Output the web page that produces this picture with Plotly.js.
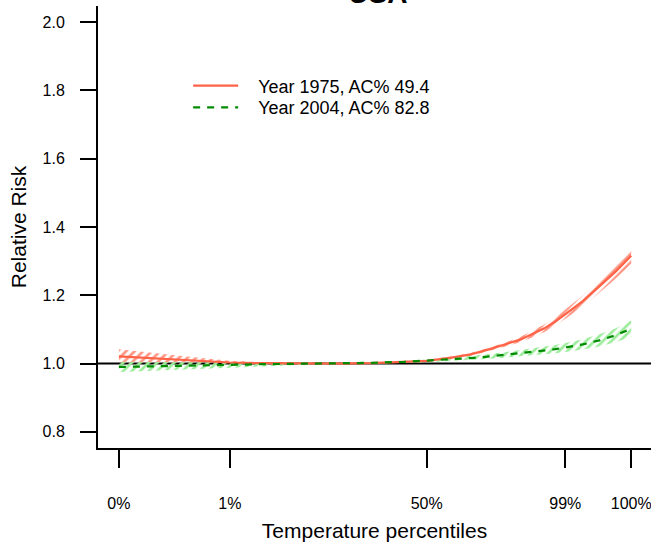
<!DOCTYPE html>
<html>
<head>
<meta charset="utf-8">
<script src="https://cdn.plot.ly/plotly-3.0.1.min.js"></script>
<style>
  html, body { margin: 0; padding: 0; background: #fff; }
  #graph { width: 651px; height: 542px; }
</style>
</head>
<body>
<div id="graph"></div>
<script>
/* temperature grid (deg C) and percentile ticks */
const temp = [-12.0, -9.5, -6.9, -4.5, -1.9, 1.0, 4.5, 8.0, 11.0, 14.0, 16.0, 18.4,
    20.0, 21.5, 23.0, 24.5, 25.7, 26.7, 27.7, 28.6, 30.2, 31.7, 33.2, 34.6];
const tickTemps = [-12.0, -1.9, 16.0, 28.6, 34.6];
const tickLabels = ["0%", "1%", "50%", "99%", "100%"];
const yTicks = [0.8, 1.0, 1.2, 1.4, 1.6, 1.8, 2.0];

/* Year 1975 */
const rr1975 = [1.021, 1.016, 1.012, 1.007, 1.003, 1.001, 1.000, 1.000, 1.001, 1.004, 1.008, 1.018,
    1.027, 1.040, 1.054, 1.070, 1.088, 1.103, 1.123, 1.145, 1.183, 1.226, 1.270, 1.316];
const lo1975 = [1.000, 1.000, 1.000, 0.999, 0.998, 0.998, 0.998, 0.998, 0.999, 1.002, 1.006, 1.015,
    1.023, 1.035, 1.048, 1.062, 1.078, 1.092, 1.111, 1.132, 1.167, 1.207, 1.249, 1.292];
const hi1975 = [1.042, 1.033, 1.024, 1.016, 1.008, 1.004, 1.002, 1.002, 1.003, 1.006, 1.010, 1.021,
    1.031, 1.045, 1.060, 1.078, 1.098, 1.114, 1.135, 1.158, 1.199, 1.245, 1.291, 1.337];

/* Year 2004 */
const rr2004 = [0.990, 0.991, 0.993, 0.994, 0.996, 0.998, 0.999, 1.000, 1.002, 1.005, 1.008, 1.013,
    1.016, 1.020, 1.025, 1.030, 1.034, 1.038, 1.042, 1.047, 1.056, 1.068, 1.083, 1.102];
const lo2004 = [0.975, 0.978, 0.981, 0.984, 0.988, 0.992, 0.996, 0.998, 1.000, 1.002, 1.004, 1.008,
    1.010, 1.013, 1.017, 1.021, 1.024, 1.027, 1.030, 1.034, 1.041, 1.050, 1.063, 1.078];
const hi2004 = [1.005, 1.004, 1.004, 1.004, 1.004, 1.003, 1.002, 1.002, 1.004, 1.008, 1.012, 1.018,
    1.022, 1.027, 1.033, 1.039, 1.044, 1.049, 1.054, 1.060, 1.071, 1.086, 1.103, 1.126];

const font = "Liberation Sans, Arial, sans-serif";
const pad = "\u00a0\u00a0\u00a0";

function band(lo, hi, col) {
    const edge = {
        x: temp, y: lo, type: "scatter", mode: "lines",
        line: { width: 0 }, showlegend: false, hoverinfo: "skip",
    };
    const fill = {
        x: temp, y: hi, type: "scatter", mode: "lines",
        line: { width: 0 }, fill: "tonexty",
        fillcolor: "rgba(0,0,0,0)",
        fillpattern: { shape: "/", fgcolor: col, bgcolor: "rgba(0,0,0,0)", size: 6, solidity: 0.45 },
        showlegend: false, hoverinfo: "skip",
    };
    return [edge, fill];
}

const data = [
    ...band(lo1975, hi1975, "rgb(255,150,132)"),
    ...band(lo2004, hi2004, "rgb(155,236,155)"),
    {
        x: temp, y: rr1975, type: "scatter", mode: "lines",
        name: pad + "Year 1975, AC% 49.4",
        line: { color: "#FF6347", width: 2.2 },
        legend: "legend",
    },
    {
        x: temp, y: rr2004, type: "scatter", mode: "lines",
        name: pad + "Year 2004, AC% 82.8",
        line: { color: "#008B00", width: 2.2, dash: "7px,7px" },
        legend: "legend2",
    },
];

const legendBase = {
    x: 0.163, xanchor: "left", yanchor: "middle",
    bgcolor: "rgba(0,0,0,0)",
    font: { size: 18, family: font },
    itemwidth: 45,
};

const layout = {
    width: 651,
    height: 542,
    margin: { l: 98, r: 0, t: 6, b: 94 },
    paper_bgcolor: "#fff",
    plot_bgcolor: "#fff",
    font: { family: font, color: "#000" },
    title: {
        text: "<b>USA</b>",
        font: { size: 28, family: font, color: "#000" },
        xref: "paper", x: 0.506, xanchor: "center",
        yref: "container", y: 0.995, yanchor: "bottom",
    },
    xaxis: {
        range: [-13.9, 36.4],
        tickvals: tickTemps,
        ticktext: tickLabels,
        ticks: "outside", ticklen: 18, tickwidth: 2, tickcolor: "#000",
        ticklabelstandoff: 22,
        ticklabeloverflow: "allow",
        tickfont: { size: 16 },
        showline: true, linewidth: 2, linecolor: "#000",
        showgrid: false, zeroline: false,
        title: { text: "Temperature percentiles", font: { size: 21 }, standoff: 14 },
    },
    yaxis: {
        range: [0.7525, 2.0475],
        tickvals: yTicks,
        tickformat: ".1f",
        ticks: "outside", ticklen: 16, tickwidth: 2, tickcolor: "#000",
        ticklabelstandoff: 12,
        tickfont: { size: 16 },
        showline: true, linewidth: 2, linecolor: "#000",
        showgrid: false, zeroline: false,
        title: { text: "Relative Risk", font: { size: 21 }, standoff: 10 },
    },
    shapes: [{
        type: "line", xref: "paper", x0: 0, x1: 1, yref: "y", y0: 1, y1: 1,
        line: { color: "#000", width: 2 }, layer: "below",
    }],
    showlegend: true,
    legend: Object.assign({}, legendBase, { y: 0.819 }),
    legend2: Object.assign({}, legendBase, { y: 0.77 }),
};

Plotly.newPlot("graph", data, layout, { displayModeBar: false, staticPlot: true });
</script>
</body>
</html>
